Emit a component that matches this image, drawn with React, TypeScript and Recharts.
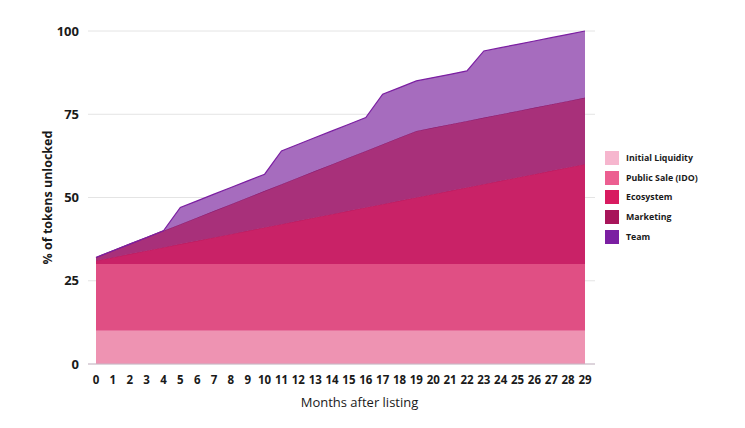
import { AreaChart, Area, XAxis, YAxis, CartesianGrid } from "recharts";

const months = [0, 1, 2, 3, 4, 5, 6, 7, 8, 9, 10, 11, 12, 13, 14, 15, 16, 17, 18, 19, 20, 21, 22, 23, 24, 25, 26, 27, 28, 29];
const initialLiquidity = [10, 10, 10, 10, 10, 10, 10, 10, 10, 10, 10, 10, 10, 10, 10, 10, 10, 10, 10, 10, 10, 10, 10, 10, 10, 10, 10, 10, 10, 10];
const publicSale = [20, 20, 20, 20, 20, 20, 20, 20, 20, 20, 20, 20, 20, 20, 20, 20, 20, 20, 20, 20, 20, 20, 20, 20, 20, 20, 20, 20, 20, 20];
const ecosystem = [1, 2, 3, 4, 5, 6, 7, 8, 9, 10, 11, 12, 13, 14, 15, 16, 17, 18, 19, 20, 21, 22, 23, 24, 25, 26, 27, 28, 29, 30];
const marketing = [1, 2, 3, 4, 5, 6, 7, 8, 9, 10, 11, 12, 13, 14, 15, 16, 17, 18, 19, 20, 20, 20, 20, 20, 20, 20, 20, 20, 20, 20];
const team = [0, 0, 0, 0, 0, 5, 5, 5, 5, 5, 5, 10, 10, 10, 10, 10, 10, 15, 15, 15, 15, 15, 15, 20, 20, 20, 20, 20, 20, 20];
const yTicks = [0, 25, 50, 75, 100];

const series = [
  { key: "initial", name: "Initial Liquidity", fill: "#EE93B2", stroke: "none", swatch: "#F6B6CE" },
  { key: "publicSale", name: "Public Sale (IDO)", fill: "#E04F84", stroke: "none", swatch: "#EC5F91" },
  { key: "ecosystem", name: "Ecosystem", fill: "#C92267", stroke: "#C01C60", swatch: "#D81B60" },
  { key: "marketing", name: "Marketing", fill: "#A8307A", stroke: "#8E1F72", swatch: "#A8155A" },
  { key: "team", name: "Team", fill: "#A66CBE", stroke: "#7B1FA2", swatch: "#7B1FA2" },
];

const data = months.map((m, i) => ({
  month: m,
  initial: initialLiquidity[i],
  publicSale: publicSale[i],
  ecosystem: ecosystem[i],
  marketing: marketing[i],
  team: team[i],
}));

const font = "'Open Sans', 'DejaVu Sans', sans-serif";

function LegendBox() {
  return (
    <div style={{ position: "absolute", left: 605, top: 148, fontFamily: font }}>
      {series.map((s) => (
        <div key={s.key} style={{ display: "flex", alignItems: "center", height: 19.7 }}>
          <div style={{ width: 14, height: 14, background: s.swatch, marginRight: 7 }} />
          <span style={{ fontSize: 8.8, fontWeight: 700, color: "#1a1a1a" }}>{s.name}</span>
        </div>
      ))}
    </div>
  );
}

export default function App() {
  return (
    <div style={{ position: "absolute", left: 0, top: 0, width: 745, height: 428, background: "#fff" }}>
      <AreaChart
        width={745}
        height={428}
        data={data}
        margin={{ top: 31, right: 150, bottom: 0, left: 0 }}
      >
        <CartesianGrid vertical={false} stroke="#E4E4E4" strokeWidth={1} />
        <XAxis
          dataKey="month"
          type="number"
          domain={[0, 29]}
          ticks={months}
          interval={0}
          padding={{ left: 8, right: 10 }}
          height={64}
          tickLine={false}
          tickMargin={6}
          axisLine={{ stroke: "#C9B7C6" }}
          tick={{ fontSize: 11.5, fontWeight: 700, fill: "#1a1a1a", fontFamily: font }}
          label={{
            value: "Months after listing",
            position: "insideBottom",
            offset: 21,
            dx: 18,
            style: { fontSize: 13, fill: "#1a1a1a", fontFamily: font },
          }}
        />
        <YAxis
          domain={[0, 100]}
          ticks={yTicks}
          width={88}
          axisLine={false}
          tickLine={false}
          tickMargin={3}
          tick={{ fontSize: 13, fontWeight: 700, fill: "#1a1a1a", fontFamily: font }}
          label={{
            value: "% of tokens unlocked",
            angle: -90,
            position: "center",
            dx: 4,
            style: { fontSize: 12.5, fontWeight: 700, fill: "#1a1a1a", fontFamily: font, textAnchor: "middle" },
          }}
        />
        {series.map((s) => (
          <Area
            key={s.key}
            type="linear"
            dataKey={s.key}
            name={s.name}
            stackId="1"
            fill={s.fill}
            fillOpacity={1}
            stroke={s.stroke}
            strokeWidth={1.2}
            dot={false}
            activeDot={false}
            isAnimationActive={false}
          />
        ))}
      </AreaChart>
      <LegendBox />
    </div>
  );
}
